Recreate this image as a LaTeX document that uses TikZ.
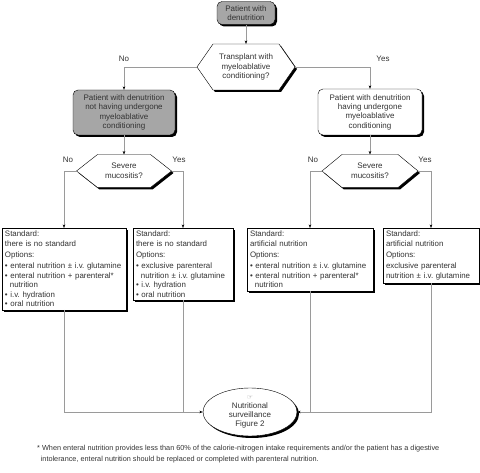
\documentclass[tikz,border=0pt]{standalone}
\usepackage{fontspec}
\setmainfont{Liberation Sans}
\newfontfamily\djv{DejaVu Sans}
\usetikzlibrary{shapes.geometric,shadows,calc,arrows.meta}
\pgfdeclarelayer{bg}
\pgfsetlayers{bg,main}
\definecolor{txt}{HTML}{333333}
\definecolor{ln}{HTML}{9A9A9A}
\definecolor{boxgray}{HTML}{A6A6A6}
\tikzset{
  shad/.style={drop shadow={shadow xshift=2pt,shadow yshift=-2pt,opacity=1,fill=black}},
  rbox/.style={draw=black,line width=0.4pt,rounded corners=5pt,shad,align=center,inner sep=0pt,
    font=\fontsize{8}{9.3}\selectfont\frenchspacing,text=txt},
  hexsize/.style={inner sep=0pt,outer sep=0pt,align=center,font=\fontsize{8}{9.8}\selectfont,text=txt},
  hexpath/.style={draw=black,fill=white,shad,line width=0.4pt},
  tbox/.style={draw=black,fill=white,shad,line width=0.4pt,align=left,inner xsep=3pt,inner ysep=3pt,
    outer sep=0pt,anchor=north west,font=\fontsize{7.9}{9.5}\selectfont\frenchspacing,text=txt},
  conn/.style={draw=ln,line width=0.5pt},
  arr/.style={conn,-{Stealth[length=3.5pt,width=2.6pt,color=black]}},
  lbl/.style={font=\fontsize{8}{9}\selectfont,text=txt,inner sep=0pt},
  fn/.style={font=\fontsize{7.3}{11}\selectfont\frenchspacing,text=txt,inner sep=0pt,align=left,anchor=north west}
}
\newcommand\hexdraw[2]{%
  \begin{pgfonlayer}{bg}
  \path[hexpath] (#1.west) -- ($(#1.north west)+(#2,0)$) -- ($(#1.north east)+(-#2,0)$) -- (#1.east)
    -- ($(#1.south east)+(-#2,0)$) -- ($(#1.south west)+(#2,0)$) -- cycle;
  \end{pgfonlayer}}
\newcommand\ind{\hspace*{0.62em}}
\begin{document}
\begin{tikzpicture}[x=1pt,y=-1pt]
\useasboundingbox (0,0) rectangle (480,473);

\node[rbox,fill=boxgray,minimum width=58pt,minimum height=23pt] (start) at (246,13) {Patient with\\denutrition};

\node[hexsize,minimum width=98pt,minimum height=46pt] (q1) at (246,67) {Transplant with\\myeloablative\\conditioning?};
\hexdraw{q1}{16}

\node[rbox,fill=boxgray,minimum width=102pt,minimum height=45pt] (n1) at (124,112.5)
  {Patient with denutrition\\not having undergone\\myeloablative\\conditioning};
\node[rbox,fill=white,minimum width=104pt,minimum height=46pt] (n2) at (370,112)
  {Patient with denutrition\\having undergone\\myeloablative\\conditioning};

\node[hexsize,minimum width=95pt,minimum height=33pt] (q2) at (124,171) {Severe\\mucositis?};
\hexdraw{q2}{21}
\node[hexsize,minimum width=96pt,minimum height=33pt] (q3) at (370,171) {Severe\\mucositis?};
\hexdraw{q3}{20}

\node[tbox,text width=118pt] (A) at (2,228)
  {Standard:\\there is no standard\\[2pt]
   Options:\\[1.5pt]
   \mbox{\textbullet\ enteral nutrition \textpm\ i.v. glutamine}\\
   \mbox{\textbullet\ enteral nutrition + parenteral*}\\
   \ind nutrition\\
   \textbullet\ i.v. hydration\\
   \textbullet\ oral nutrition};
\node[tbox,text width=94pt] (B) at (133,228)
  {Standard:\\there is no standard\\[2pt]
   Options:\\[1.5pt]
   \textbullet\ exclusive parenteral\\
   \mbox{\ind nutrition \textpm\ i.v. glutamine}\\
   \textbullet\ i.v. hydration\\
   \textbullet\ oral nutrition};
\node[tbox,text width=120pt] (C) at (247,228)
  {Standard:\\artificial nutrition\\[2pt]
   Options:\\[1.5pt]
   \mbox{\textbullet\ enteral nutrition \textpm\ i.v. glutamine}\\
   \mbox{\textbullet\ enteral nutrition + parenteral*}\\
   \ind nutrition};
\node[tbox,text width=90pt] (D) at (383,228)
  {Standard:\\artificial nutrition\\[2pt]
   Options:\\[1.5pt]
   exclusive parenteral\\
   \mbox{nutrition \textpm\ i.v. glutamine}};

\node[ellipse,draw=black,fill=white,shad,line width=0.4pt,minimum width=94pt,minimum height=48pt,
  inner sep=0pt,align=center,font=\fontsize{8}{9}\selectfont,text=txt] (end) at (250,412)
  {{\djv\fontsize{6.5}{7}\selectfont\color{gray}☞}\\Nutritional\\surveillance\\Figure 2};

% connectors
\draw[arr] (start.south) -- (q1.north);
\draw[arr] (q1.west) -| (n1.north);
\draw[arr] (q1.east) -| (n2.north);
\draw[arr] (n1.south) -- (q2.north);
\draw[arr] (n2.south) -- (q3.north);
\draw[arr] (q2.west) -| (A.north);
\draw[arr] (q2.east) -| (B.north);
\draw[arr] (q3.west) -| (C.north);
\draw[arr] (q3.east) -| (D.north);
\draw[arr] (A.south) |- (end.west);
\draw[conn] (B.south) -- (B.south |- end.west);
\draw[arr] (D.south) |- (end.east);
\draw[conn] (C.south) -- (C.south |- end.east);

% labels
\node[lbl] (l1) at (124,59) {No};
\node[lbl] (l2) at (383,59) {Yes};
\node[lbl] (l3) at (68,160) {No};
\node[lbl] (l4) at (179,160) {Yes};
\node[lbl] (l5) at (313,160) {No};
\node[lbl] (l6) at (425,160) {Yes};

\node[fn] (note) at (37,445)
  {* When enteral nutrition provides less than 60\% of the calorie-nitrogen intake requirements and/or the patient has a digestive\\
   \hspace*{0.5em}intolerance, enteral nutrition should be replaced or completed with parenteral nutrition.};
\end{tikzpicture}
\end{document}
